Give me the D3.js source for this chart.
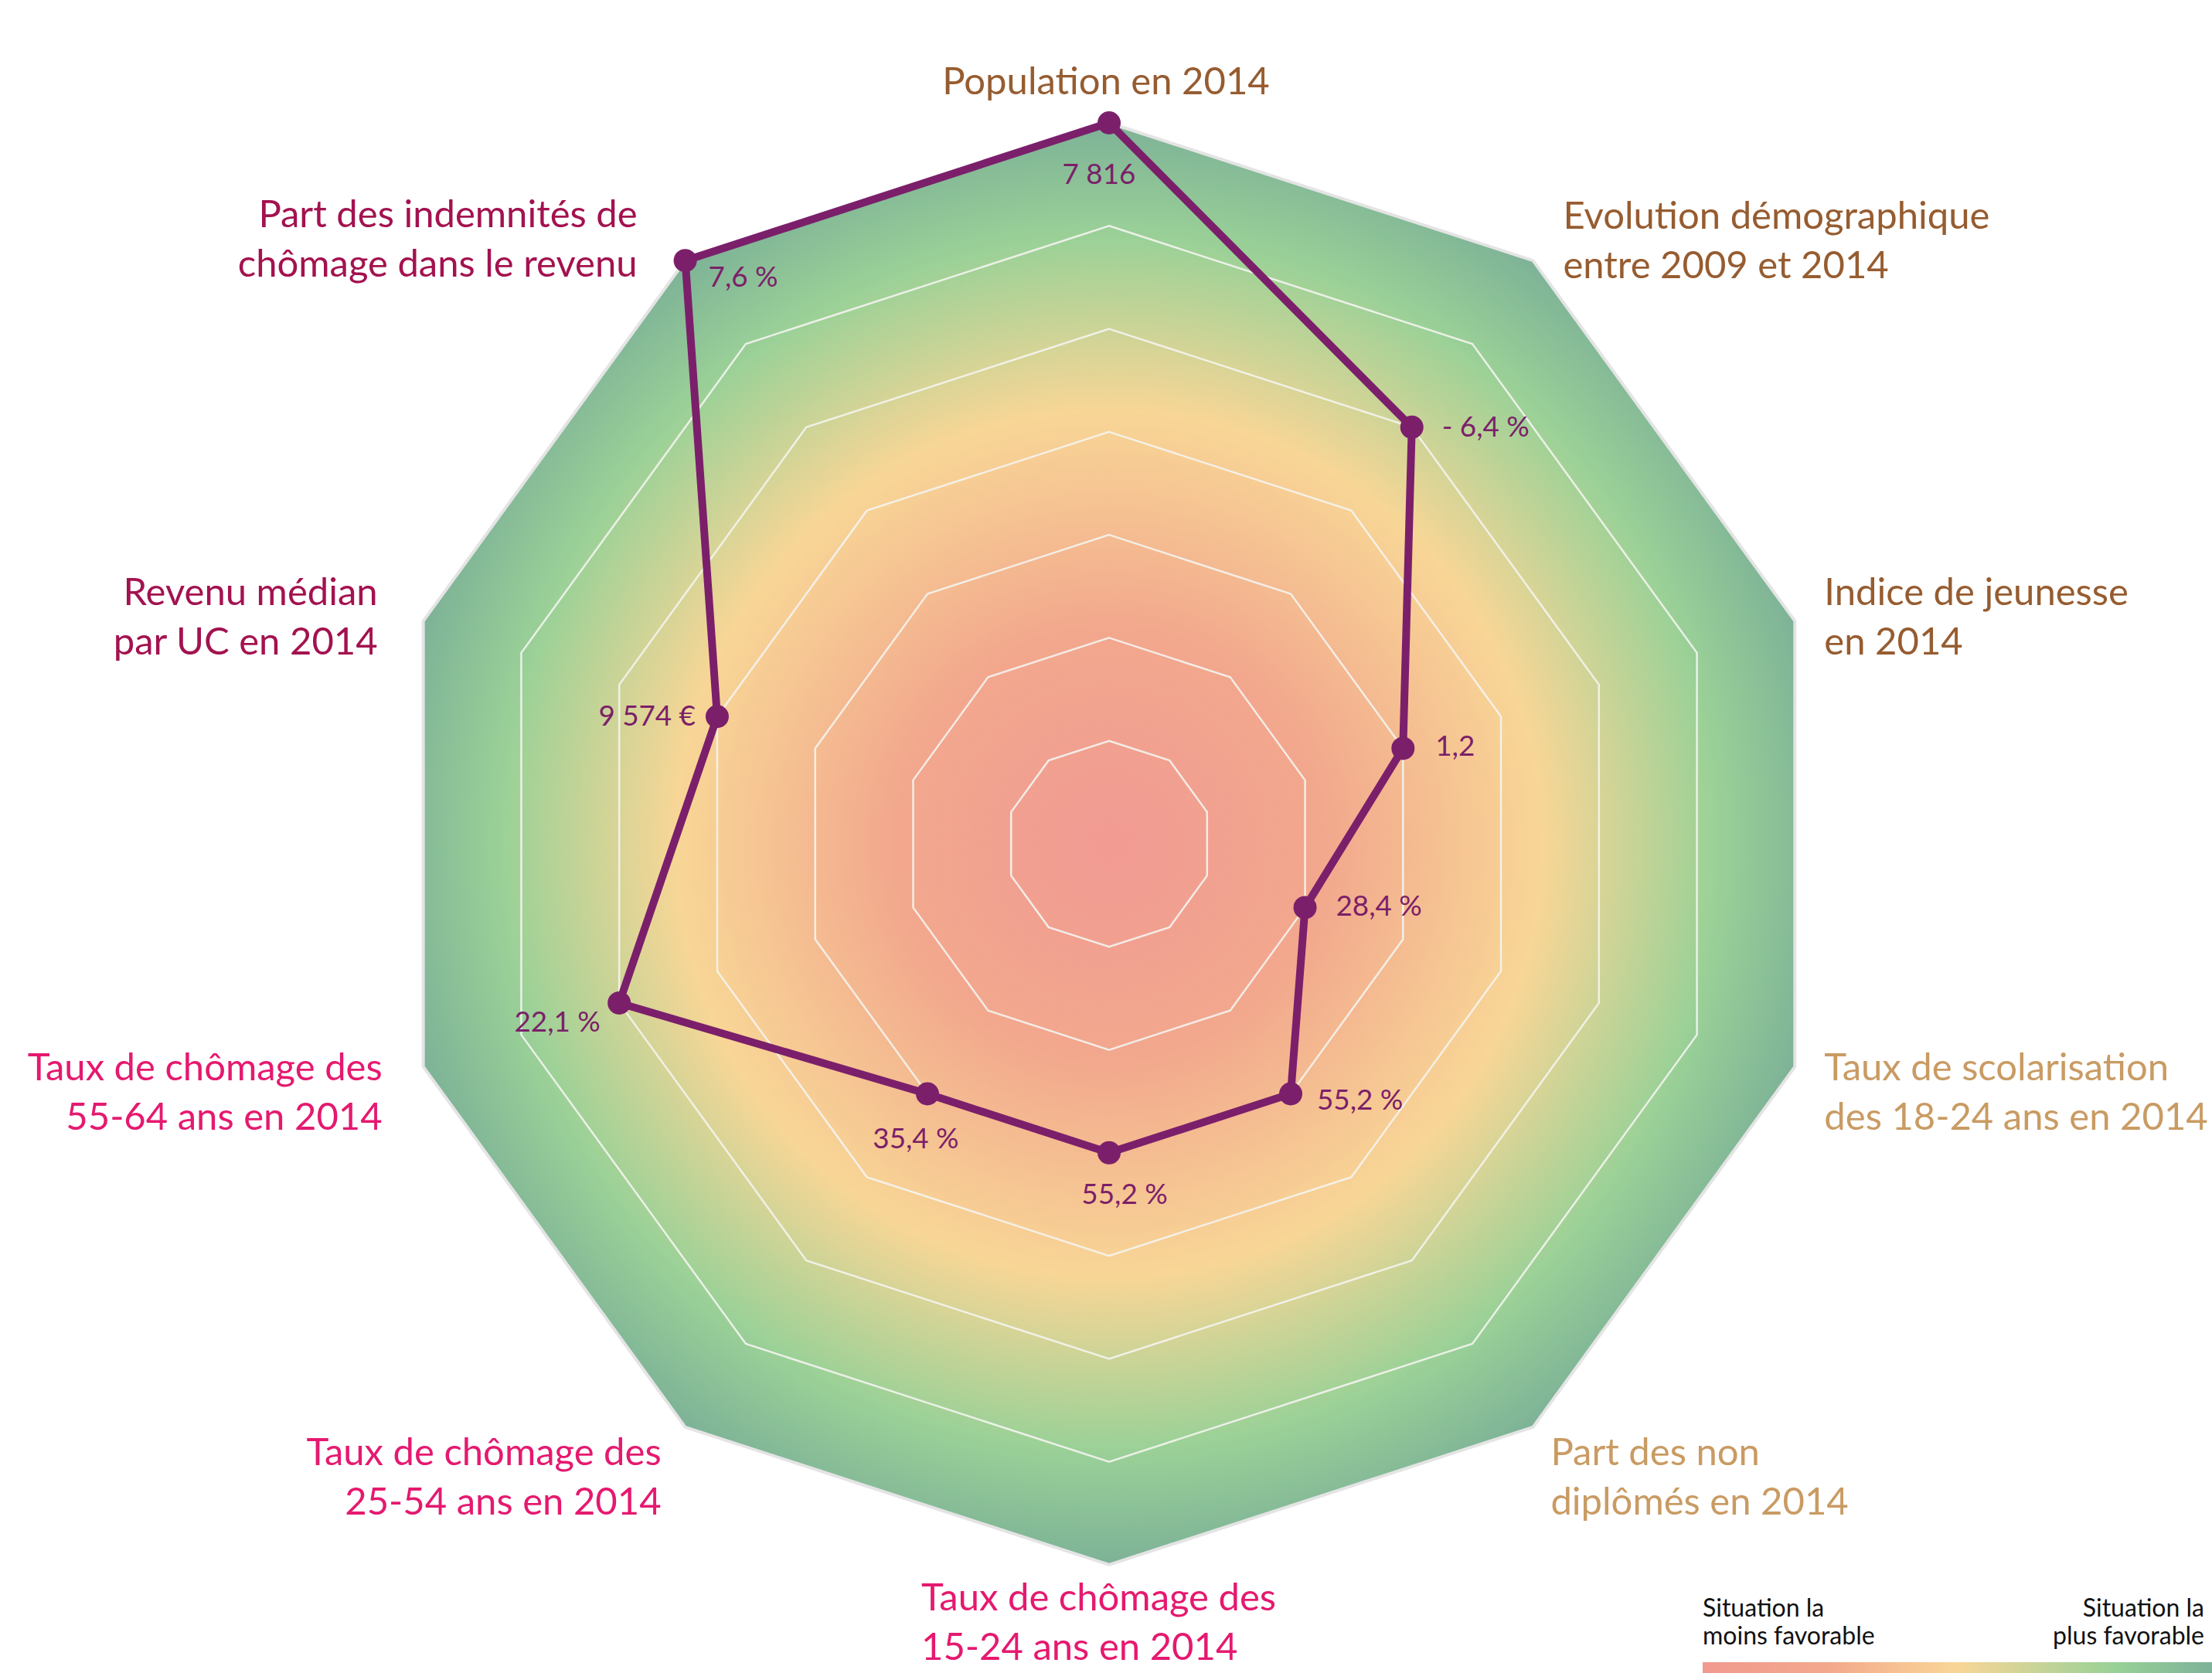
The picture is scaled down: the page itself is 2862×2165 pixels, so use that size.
<!DOCTYPE html>
<html>
<head>
<meta charset="utf-8">
<script src="https://cdn.jsdelivr.net/npm/d3@7"></script>
<style>
  body { margin: 0; background: #fff; }
  svg { display: block; }
  text { font-family: Lato, "Open Sans", sans-serif; }
</style>
</head>
<body>
<div class="radar-container"></div>
<script>
var width = 2862;
var height = 2165;
var cx = 1435;
var cy = 1092;
var radius = 933;
var levels = 7;

// axis names, one line per array item
var axes = [
  ["Population en 2014"],
  ["Evolution démographique", "entre 2009 et 2014"],
  ["Indice de jeunesse", "en 2014"],
  ["Taux de scolarisation", "des 18-24 ans en 2014"],
  ["Part des non", "diplômés en 2014"],
  ["Taux de chômage des", "15-24 ans en 2014"],
  ["Taux de chômage des", "25-54 ans en 2014"],
  ["Taux de chômage des", "55-64 ans en 2014"],
  ["Revenu médian", "par UC en 2014"],
  ["Part des indemnités de", "chômage dans le revenu"]
];
// score on the 0-7 scale (7 = situation la plus favorable)
var scores = [7, 5, 3, 2, 3, 3, 3, 5, 4, 7];
var valueLabels = ["7 816", "- 6,4 %", "1,2", "28,4 %", "55,2 %", "55,2 %", "35,4 %", "22,1 %", "9 574 €", "7,6 %"];
var axisColors = ["#965c30", "#965c30", "#965c30", "#c99b63", "#c99b63",
                  "#e5196f", "#e5196f", "#e5196f", "#a3124f", "#a3124f"];

// label placement relative to the outer vertex of each axis: [dx, dy, anchor]
var labelPlace = [
  [-4, -37, "middle"], [39, -41, "start"], [38, -21, "start"], [38, 18, "start"], [23, 49, "start"],
  [-243, 59, "start"], [-31, 49, "end"], [-53, 18, "end"], [-59, -21, "end"], [-62, -43, "end"]
];
// value label placement relative to the point: [dx, dy, anchor]
var valuePlace = [
  [-13, 79, "middle"], [39, 12, "start"], [42, 10, "start"], [40, 11, "start"], [34, 21, "start"],
  [20, 66, "middle"], [-15, 71, "middle"], [-80, 37, "middle"], [-28, 12, "end"], [30, 34, "start"]
];

var n = axes.length;
var rScale = d3.scaleLinear().domain([0, levels]).range([0, radius]);
var aScale = d3.scaleLinear().domain([0, n]).range([0, 2 * Math.PI]);

function pos(i, v) {
  var a = aScale(i);
  return [cx + rScale(v) * Math.sin(a), cy - rScale(v) * Math.cos(a)];
}

var svg = d3.select(".radar-container").append("svg")
  .attr("width", width).attr("height", height);

var defs = svg.append("defs");
var rg = defs.append("radialGradient").attr("id", "bg")
  .attr("gradientUnits", "userSpaceOnUse")
  .attr("cx", cx).attr("cy", cy).attr("r", radius);
[[0, "#f19a93"], [0.3, "#f2a88d"], [0.6, "#f8d696"], [0.84, "#9bd197"], [1, "#7db297"]]
  .forEach(function (s) { rg.append("stop").attr("offset", s[0]).attr("stop-color", s[1]); });

var lg = defs.append("linearGradient").attr("id", "legend");
[[0, "#f1998f"], [0.25, "#f3a98c"], [0.5, "#f9d697"], [0.81, "#98d197"], [1, "#7db298"]]
  .forEach(function (s) { lg.append("stop").attr("offset", s[0]).attr("stop-color", s[1]); });

function ring(v) {
  return d3.range(n).map(function (i) { return pos(i, v); });
}
var line = d3.line().curve(d3.curveLinearClosed);

// background decagon
svg.append("path")
  .attr("d", line(ring(levels)))
  .attr("fill", "url(#bg)")
  .attr("stroke", "#e4e4e4")
  .attr("stroke-width", 4);

// grid rings
svg.selectAll(".grid").data(d3.range(1, levels)).enter().append("path")
  .attr("class", "grid")
  .attr("d", function (d) { return line(ring(d)); })
  .attr("fill", "none")
  .attr("stroke", "#f4f4f0")
  .attr("stroke-opacity", 0.9)
  .attr("stroke-width", 2.5);

// axis labels
svg.selectAll(".axis-label").data(axes).enter().append("text")
  .attr("class", "axis-label")
  .attr("font-size", 49)
  .attr("fill", function (d, i) { return axisColors[i]; })
  .attr("text-anchor", function (d, i) { return labelPlace[i][2]; })
  .each(function (d, i) {
    var p = pos(i, levels);
    var t = d3.select(this);
    d.forEach(function (s, k) {
      t.append("tspan")
        .attr("x", p[0] + labelPlace[i][0])
        .attr("y", p[1] + labelPlace[i][1] + k * 64)
        .text(s);
    });
  });

// data line
var pts = scores.map(function (v, i) { return pos(i, v); });
svg.append("path")
  .attr("d", line(pts))
  .attr("fill", "none")
  .attr("stroke", "#7b1f6b")
  .attr("stroke-width", 10)
  .attr("stroke-linejoin", "round");

svg.selectAll(".point").data(pts).enter().append("circle")
  .attr("class", "point")
  .attr("cx", function (d) { return d[0]; })
  .attr("cy", function (d) { return d[1]; })
  .attr("r", 15)
  .attr("fill", "#7b1f6b");

svg.selectAll(".value").data(valueLabels).enter().append("text")
  .attr("class", "value")
  .attr("font-size", 36.8)
  .attr("fill", "#7b2069")
  .attr("x", function (d, i) { return pts[i][0] + valuePlace[i][0]; })
  .attr("y", function (d, i) { return pts[i][1] + valuePlace[i][1]; })
  .attr("text-anchor", function (d, i) { return valuePlace[i][2]; })
  .text(function (d) { return d; });

// legend
svg.append("rect")
  .attr("x", 2203).attr("y", 2151).attr("width", 659).attr("height", 14)
  .attr("fill", "url(#legend)");

var legendLeft = ["Situation la", "moins favorable"];
var legendRight = ["Situation la", "plus favorable"];
var lt = svg.append("text").attr("font-size", 32).attr("fill", "#111");
legendLeft.forEach(function (s, k) {
  lt.append("tspan").attr("x", 2203).attr("y", 2092 + k * 36).text(s);
});
var rt = svg.append("text").attr("font-size", 32).attr("fill", "#111").attr("text-anchor", "end");
legendRight.forEach(function (s, k) {
  rt.append("tspan").attr("x", 2852).attr("y", 2092 + k * 36).text(s);
});
</script>
</body>
</html>
